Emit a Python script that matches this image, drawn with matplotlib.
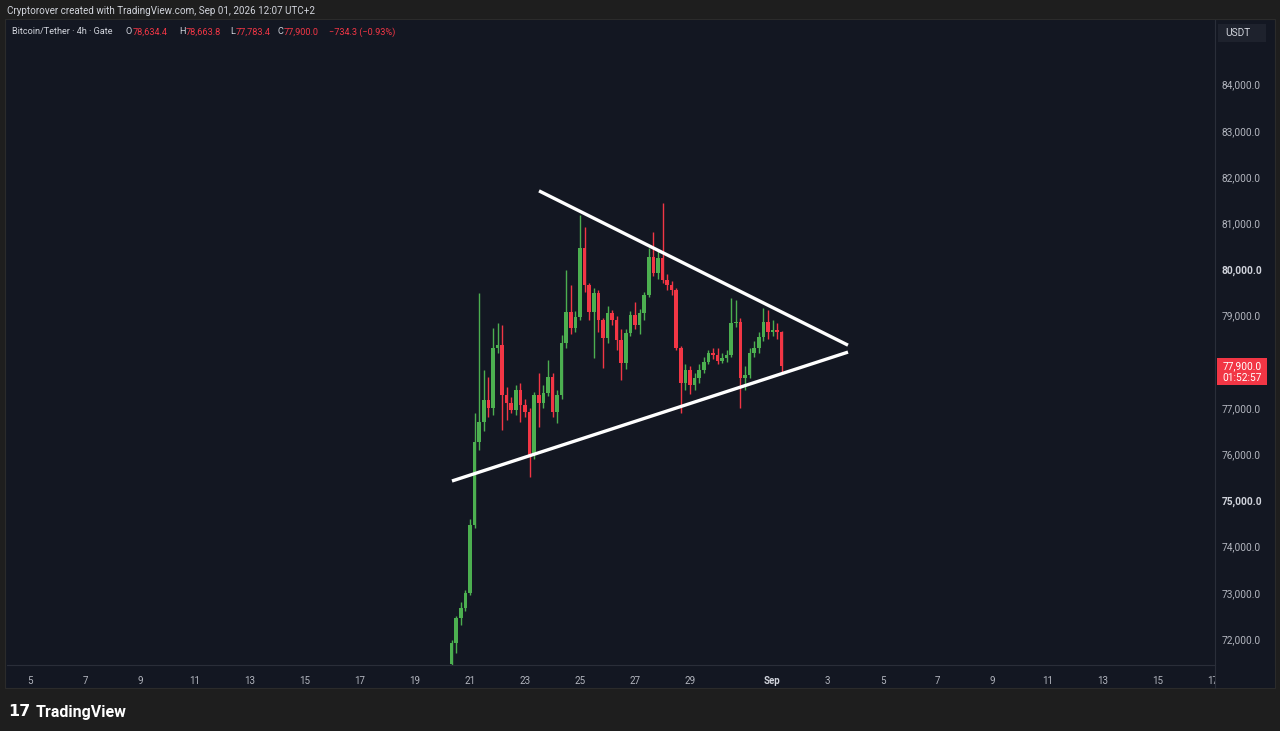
import numpy as np
import pandas as pd
import matplotlib
matplotlib.use("Agg")
import matplotlib.pyplot as plt
import matplotlib.dates as mdates
from matplotlib.patches import Rectangle
from matplotlib.transforms import blended_transform_factory

# ==========================
# DATOS (velas 4h BTC/USDT)
# ==========================
candle_times = pd.date_range("2026-08-20 08:00", periods=73, freq="4h")

opens = [71450, 71910, 72450, 72670, 73000, 74470, 76260, 76700, 77170, 77000,
         78300, 78360, 77280, 77100, 76960, 77390, 77060, 76910, 75980, 77280,
         77100, 77320, 77670, 76910, 77280, 78410, 79080, 78730, 78970, 80460,
         79660, 79080, 79490, 78900, 78520, 79060, 78900, 78470, 77970, 78620,
         79010, 78800, 79060, 79450, 80270, 79920, 80250, 79770, 79660, 79550,
         78300, 77540, 77820, 77500, 77650, 77820, 78000, 78180, 78140, 78020,
         78090, 78140, 78840, 78860, 77650, 77710, 78190, 78300, 78540, 78860,
         78650, 78690, 78634.4]
highs = [71980, 72500, 72800, 73060, 74600, 76890, 79490, 77820, 77670, 78730,
         78840, 78800, 77450, 77240, 77500, 77550, 77200, 77000, 77350, 77760,
         77500, 78040, 77750, 77400, 78580, 79990, 79660, 79100, 81180, 80920,
         79700, 79600, 79550, 78950, 79200, 79120, 79000, 78700, 78700, 79100,
         79300, 79150, 79500, 80460, 80810, 80400, 81440, 79900, 79750, 79600,
         78350, 77950, 77900, 77750, 77950, 78100, 78250, 78300, 78300, 78200,
         78250, 79380, 79340, 78950, 77900, 78300, 78450, 78650, 79160, 79120,
         78900, 78850, 78663.8]
lows = [71400, 71700, 72300, 72600, 72950, 74400, 76100, 76500, 76800, 76850,
        78200, 76520, 76750, 76890, 76850, 76700, 76800, 75500, 75900, 76590,
        77000, 77250, 76800, 76670, 77200, 78300, 78600, 78650, 78900, 79500,
        78900, 78080, 78650, 77870, 78400, 78800, 78250, 77600, 77850, 78550,
        78700, 78600, 78900, 79400, 79850, 79800, 79700, 79550, 79450, 78250,
        76890, 77400, 77300, 77400, 77550, 77750, 77950, 78050, 77950, 77980,
        78000, 78100, 78750, 77000, 77400, 77650, 78100, 78200, 78450, 78500,
        78550, 78500, 77783.4]
closes = [71910, 72450, 72670, 73000, 74470, 76260, 76700, 77170, 77000, 78300,
          78360, 77280, 77100, 76960, 77390, 77060, 76910, 75980, 77280, 77100,
          77320, 77670, 76910, 77280, 78410, 79080, 78730, 78970, 80460, 79660,
          79080, 79490, 78900, 78520, 79060, 78900, 78470, 77970, 78620, 79010,
          78800, 79060, 79450, 80270, 79920, 80250, 79770, 79660, 79550, 78300,
          77540, 77820, 77500, 77650, 77820, 78000, 78180, 78140, 78020, 78090,
          78140, 78840, 78860, 77650, 77710, 78190, 78300, 78540, 78860, 78650,
          78690, 78634.4, 77900.0]

# cambio mostrado en la cabecera
change_abs = -734.3
change_pct = -0.93
countdown = "01:52:57"

# líneas del triángulo (dibujo del autor)
upper_line_times = ["2026-08-23 12:14", "2026-09-03 17:53"]
upper_line_prices = [81700, 78360]
lower_line_times = ["2026-08-20 08:17", "2026-09-03 17:53"]
lower_line_prices = [75420, 78210]

price_ticks = list(range(72000, 85000, 1000))
bold_prices = [75000, 80000]
date_ticks = ([f"2026-08-{d:02d}" for d in range(5, 30, 2)] + ["2026-09-01"]
              + [f"2026-09-{d:02d}" for d in range(3, 18, 2)])

# ==========================
# ESTILO
# ==========================
W, H = 1280, 731
BG_OUT = "#1e1e1e"
BG_PANEL = "#131722"
GRID = "#2a2e39"
TXT = "#b2b5be"
GREEN = "#4caf50"
RED = "#f23645"
PX_PER_1000 = 46.2

plt.rcParams["font.family"] = ["Roboto", "DejaVu Sans"]


def fx(px):
    return px / W


def fy(py):
    return 1 - py / H


fig = plt.figure(figsize=(W / 100, H / 100), dpi=100, facecolor=BG_OUT)

# panel del gráfico
fig.patches.append(Rectangle((fx(5), fy(688)), fx(1275) - fx(5), fy(19) - fy(688),
                             transform=fig.transFigure, facecolor=BG_PANEL,
                             edgecolor="#2b2b2b", linewidth=0.8, zorder=-1))

ax = fig.add_axes([fx(7), fy(665), fx(1215) - fx(7), fy(20) - fy(665)])
ax.set_facecolor(BG_PANEL)

# velas
t = mdates.date2num(candle_times)
o = np.array(opens)
c = np.array(closes)
colors = np.where(c >= o, GREEN, RED)
ax.vlines(t, lows, highs, colors=colors, linewidth=1.0, zorder=2)
ax.bar(t, np.maximum(np.abs(c - o), 15), bottom=np.minimum(o, c), width=0.78 / 6,
       color=colors, linewidth=0, zorder=3)

# triángulo
ax.plot(mdates.date2num(pd.to_datetime(upper_line_times)), upper_line_prices,
        color="white", linewidth=2.4, solid_capstyle="butt", zorder=4)
ax.plot(mdates.date2num(pd.to_datetime(lower_line_times)), lower_line_prices,
        color="white", linewidth=2.4, solid_capstyle="butt", zorder=4)

# escalas
x0 = mdates.date2num(pd.Timestamp("2026-08-05"))
ax.set_xlim(x0 + (7 - 30) / 27.5, x0 + (1215 - 30) / 27.5)
ax.set_ylim(72000 - 26 / PX_PER_1000 * 1000, 72000 + 619 / PX_PER_1000 * 1000)

xt = mdates.date2num(pd.to_datetime(date_ticks))
xlabels = ["Sep" if d.endswith("09-01") else str(int(d[-2:])) for d in date_ticks]
ax.set_xticks(xt)
ax.set_xticklabels(xlabels)
ax.set_yticks(price_ticks)
ax.set_yticklabels([f"{p:,.1f}" for p in price_ticks])
ax.yaxis.tick_right()
ax.tick_params(axis="y", length=0, pad=5, labelsize=7.3, labelcolor=TXT)
ax.tick_params(axis="x", length=0, pad=8, labelsize=7.0, labelcolor=TXT)
for lab, p in zip(ax.get_yticklabels(), price_ticks):
    if p in bold_prices:
        lab.set_fontweight("bold")
        lab.set_color("#d1d4dc")
for lab in ax.get_xticklabels():
    if lab.get_text() == "Sep":
        lab.set_fontweight("bold")
        lab.set_color("#d1d4dc")

for s in ["top", "left"]:
    ax.spines[s].set_visible(False)
ax.spines["right"].set_color(GRID)
ax.spines["bottom"].set_color(GRID)
ax.spines["right"].set_linewidth(0.8)
ax.spines["bottom"].set_linewidth(0.8)

# tapa el "17" cortado bajo la escala de precios
fig.patches.append(Rectangle((fx(1215.5), fy(688)), fx(1275) - fx(1215.5), fy(665.5) - fy(688),
                             transform=fig.transFigure, facecolor=BG_PANEL,
                             edgecolor="none", zorder=5))
fig.lines.append(plt.Line2D([fx(1215), fx(1215)], [fy(665), fy(688)],
                            transform=fig.transFigure, color=GRID, linewidth=0.8, zorder=6))

# etiqueta de precio actual
tr = blended_transform_factory(ax.transAxes, ax.transData)
ax_w = 1215 - 7
unit = 1000 / PX_PER_1000
ax.add_patch(Rectangle((1 + 2 / ax_w, closes[-1] - 19 * unit), 50 / ax_w, 27 * unit,
                       transform=tr, facecolor=RED, edgecolor="none",
                       clip_on=False, zorder=9))
ax.text(1 + 27 / ax_w, closes[-1], f"{closes[-1]:,.1f}", transform=tr,
        ha="center", va="center", fontsize=7.3, color="white", clip_on=False, zorder=10)
ax.text(1 + 27 / ax_w, closes[-1] - 12 * unit, countdown, transform=tr,
        ha="center", va="center", fontsize=7.3, color="white", clip_on=False, zorder=10)

# USDT
fig.patches.append(Rectangle((fx(1218), fy(42)), fx(1266) - fx(1218), fy(24) - fy(42),
                             transform=fig.transFigure, facecolor="#1e222d",
                             edgecolor="none", zorder=5))
fig.text(fx(1238), fy(33), "USDT", ha="center", va="center", fontsize=7.3,
         color="#d1d4dc", zorder=6)

# textos superiores
fig.text(fx(7), fy(11), "Cryptorover created with TradingView.com, Sep 01, 2026 12:07 UTC+2",
         ha="left", va="center", fontsize=7.1, color="#d1d4dc")
fig.text(fx(12), fy(32), "Bitcoin/Tether · 4h · Gate", ha="left", va="center",
         fontsize=6.6, color="#d1d4dc")
ohlc_parts = [(126, "O", "#d1d4dc"), (133, f"{opens[-1]:,.1f}", RED),
              (179, "H", "#d1d4dc"), (186, f"{highs[-1]:,.1f}", RED),
              (230, "L", "#d1d4dc"), (236, f"{lows[-1]:,.1f}", RED),
              (277, "C", "#d1d4dc"), (284, f"{closes[-1]:,.1f}", RED)]
for px, s, col in ohlc_parts:
    fig.text(fx(px), fy(32), s, ha="left", va="center", fontsize=6.6, color=col)
fig.text(fx(329), fy(32), f"\u2212{abs(change_abs):,.1f} (\u2212{abs(change_pct):.2f}%)",
         ha="left", va="center", fontsize=6.6, color=RED)

# logo inferior
fig.text(fx(8), fy(712), "17", ha="left", va="center", fontsize=11.5,
         fontweight="heavy", color="white", family="DejaVu Sans")
fig.text(fx(36), fy(712), "TradingView", ha="left", va="center", fontsize=11.5,
         fontweight="bold", color="white")

fig.savefig("out.png", dpi=100, facecolor=BG_OUT)
